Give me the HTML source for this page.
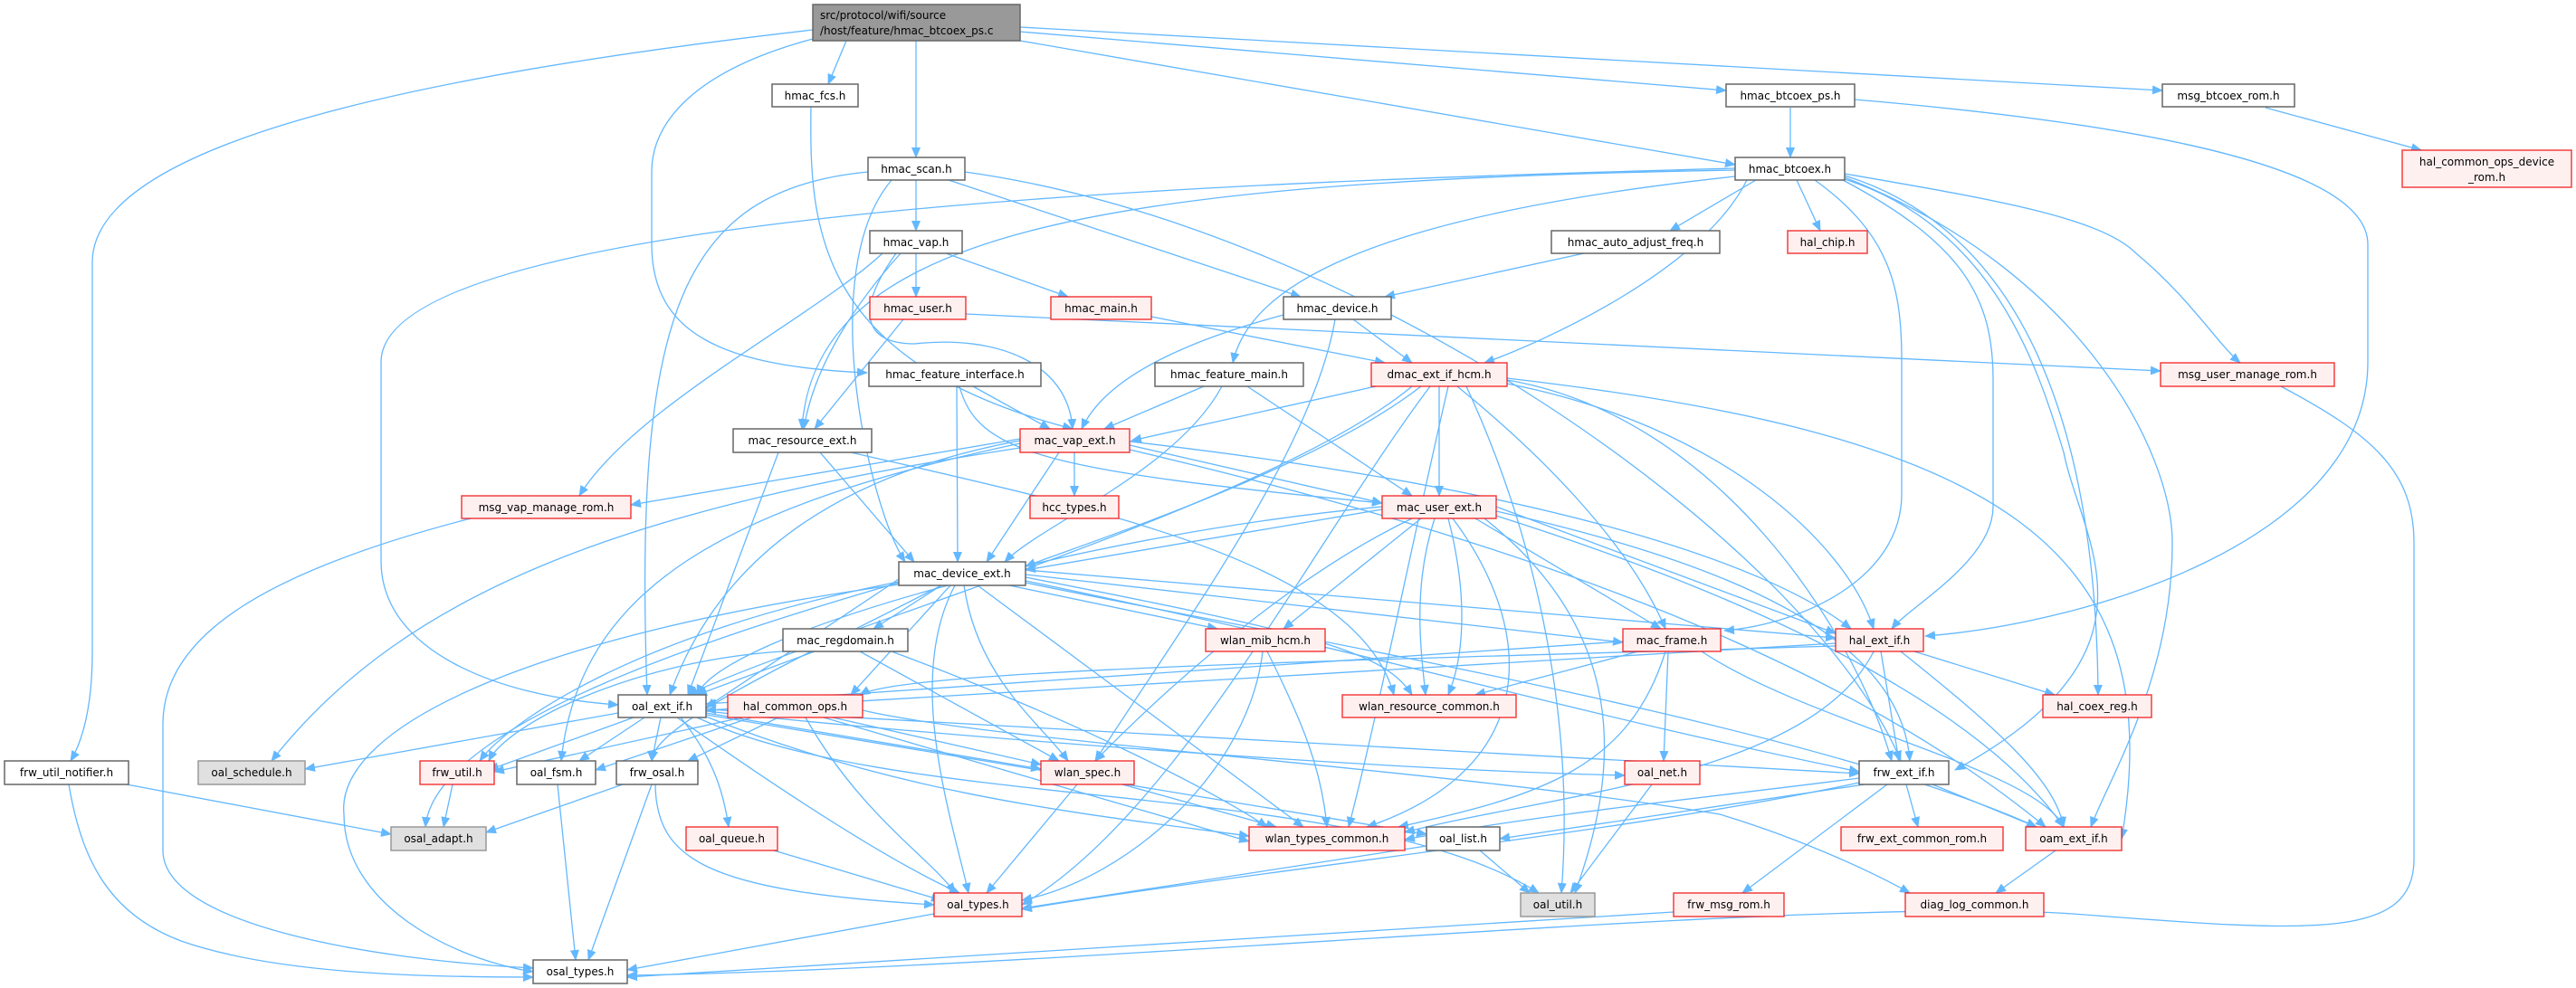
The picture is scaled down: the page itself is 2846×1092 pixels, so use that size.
<!DOCTYPE html>
<html><head><meta charset="utf-8"><style>
html,body{margin:0;padding:0;background:#fff;}
svg{display:block;}
text{font-family:"DejaVu Sans","Liberation Sans",sans-serif;font-size:12px;fill:#000;}
.e{fill:none;stroke:#63b8ff;stroke-width:1.3;marker-end:url(#a);}
.n{fill:#fff;stroke:#666;stroke-width:1.5;}
.r{fill:#fff0f0;stroke:#f00000;stroke-opacity:.75;stroke-width:1.5;}
.g{fill:#e0e0e0;stroke:#999;stroke-width:1.5;}
.root{fill:#999;stroke:#666;stroke-width:1.5;}
</style></head><body>
<svg width="2846" height="1092" viewBox="0 0 2846 1092" xmlns="http://www.w3.org/2000/svg">
<defs><marker id="a" markerUnits="userSpaceOnUse" markerWidth="12" markerHeight="10" refX="11" refY="5" orient="auto"><path d="M0,0 L12,5 L0,10 z" fill="#63b8ff"/></marker></defs>
<g>
<path class="e" d="M898,33 C400,90 102,170 102,290 L102,720 Q102,800 78,841"/>
<path class="e" d="M898,43 C760,80 720,140 720,190 L720,270 C720,370 800,405 958,412"/>
<path class="e" d="M935,45 L915,93"/>
<path class="e" d="M1012,45 L1012,174"/>
<path class="e" d="M1127,45 L1917,182"/>
<path class="e" d="M1127,35 L1907,100"/>
<path class="e" d="M1127,30 L2389,100"/>
<path class="e" d="M896,118 C894,250 900,400 1185,474"/>
<path class="e" d="M1978,119 L1978,174"/>
<path class="e" d="M2049,110 C2400,140 2616,190 2616,270 L2616,400 C2616,600 2300,690 2127,703"/>
<path class="e" d="M2503,119 L2675,166"/>
<path class="e" d="M1012,199 L1012,255"/>
<path class="e" d="M1048,199 L1437,328"/>
<path class="e" d="M985,199 C900,300 960,560 1000,621"/>
<path class="e" d="M959,190 C750,210 700,350 715,768"/>
<path class="e" d="M1066,190 C1500,250 2000,600 2100,841"/>
<path class="e" d="M1917,186 C1400,200 421,230 421,400 L421,620 C421,720 550,770 683,779"/>
<path class="e" d="M1917,188 C1200,200 900,260 886,474"/>
<path class="e" d="M1940,199 L1845,255"/>
<path class="e" d="M1917,195 C1500,240 1380,320 1362,401"/>
<path class="e" d="M1930,199 C1880,300 1700,380 1640,401"/>
<path class="e" d="M1985,199 L2011,255"/>
<path class="e" d="M2005,199 C2090,260 2101,320 2101,400 L2101,546 C2101,640 1990,690 1905,697"/>
<path class="e" d="M2036,199 C2170,270 2202,330 2202,420 L2202,560 C2202,620 2110,670 2090,695"/>
<path class="e" d="M2038,194 C2250,260 2316,500 2318,768"/>
<path class="e" d="M2038,192 C2200,220 2320,240 2360,280 C2420,330 2450,380 2475,401"/>
<path class="e" d="M2038,198 C2200,250 2250,400 2280,500 C2300,600 2400,720 2160,851"/>
<path class="e" d="M2038,196 C2300,300 2400,500 2400,600 C2400,750 2330,860 2310,914"/>
<path class="e" d="M1012,280 L1012,328"/>
<path class="e" d="M1045,280 L1180,328"/>
<path class="e" d="M995,280 C950,330 900,400 888,474"/>
<path class="e" d="M975,280 C900,350 700,450 640,548"/>
<path class="e" d="M990,280 C940,350 960,380 1010,380 C1100,370 1180,400 1185,474"/>
<path class="e" d="M998,353 L900,474"/>
<path class="e" d="M1067,347 L2387,410"/>
<path class="e" d="M1272,350 L1530,401"/>
<path class="e" d="M1418,348 C1300,380 1220,420 1195,474"/>
<path class="e" d="M1495,353 L1560,401"/>
<path class="e" d="M1475,353 C1450,500 1300,700 1210,841"/>
<path class="e" d="M1750,280 L1530,328"/>
<path class="e" d="M1075,427 L1160,474"/>
<path class="e" d="M1060,427 C1080,500 1150,520 1527,556"/>
<path class="e" d="M1057,427 L1058,621"/>
<path class="e" d="M1330,427 L1220,474"/>
<path class="e" d="M1378,427 L1560,548"/>
<path class="e" d="M1350,427 C1300,520 1150,580 1110,621"/>
<path class="e" d="M1520,427 L1250,487"/>
<path class="e" d="M1590,427 L1590,548"/>
<path class="e" d="M1570,427 C1450,520 1200,600 1133,626"/>
<path class="e" d="M1560,427 C1400,560 900,700 760,768"/>
<path class="e" d="M1610,427 C1700,500 1800,600 1840,695"/>
<path class="e" d="M1665,424 C1900,470 2040,600 2070,695"/>
<path class="e" d="M1665,420 C1900,460 2050,700 2090,841"/>
<path class="e" d="M1665,418 C2200,480 2400,600 2344,927"/>
<path class="e" d="M1580,427 C1450,600 1300,900 1129,1000"/>
<path class="e" d="M1600,427 C1560,600 1520,800 1490,914"/>
<path class="e" d="M1620,427 C1700,600 1740,800 1725,987"/>
<path class="e" d="M860,500 L760,768"/>
<path class="e" d="M906,500 L1010,621"/>
<path class="e" d="M940,500 C1200,560 1500,620 1540,768"/>
<path class="e" d="M1127,485 L697,558"/>
<path class="e" d="M1187,500 L1187,548"/>
<path class="e" d="M1248,492 L1527,556"/>
<path class="e" d="M1170,500 L1090,621"/>
<path class="e" d="M1127,495 C700,560 450,650 300,841"/>
<path class="e" d="M1127,490 C800,560 640,650 620,841"/>
<path class="e" d="M1248,488 C1700,540 1950,620 2045,695"/>
<path class="e" d="M1248,497 C1600,580 2000,700 2260,914"/>
<path class="e" d="M1127,487 C950,520 800,600 740,768"/>
<path class="e" d="M520,573 C300,630 180,700 180,800 L180,940 C180,1020 400,1060 589,1070"/>
<path class="e" d="M2520,427 C2620,480 2667,520 2667,600 L2667,950 C2667,1040 2550,1030 2290,1010 C2000,990 1200,1070 693,1078"/>
<path class="e" d="M1527,563 L1133,630"/>
<path class="e" d="M1527,560 C1200,590 800,700 770,768"/>
<path class="e" d="M1570,573 L1418,695"/>
<path class="e" d="M1630,573 L1835,695"/>
<path class="e" d="M1600,573 C1620,650 1620,720 1600,768"/>
<path class="e" d="M1585,573 C1560,650 1570,720 1575,768"/>
<path class="e" d="M1560,573 C1400,650 1250,800 1210,841"/>
<path class="e" d="M1605,573 C1700,700 1700,850 1510,914"/>
<path class="e" d="M1653,560 L2028,700"/>
<path class="e" d="M1653,565 C1900,620 2100,700 2110,841"/>
<path class="e" d="M1653,570 C2000,680 2200,800 2280,914"/>
<path class="e" d="M1640,573 C1800,700 1790,850 1740,987"/>
<path class="e" d="M1040,647 L965,695"/>
<path class="e" d="M993,640 L780,782"/>
<path class="e" d="M1115,647 L1345,695"/>
<path class="e" d="M1133,635 L1793,710"/>
<path class="e" d="M1133,630 L2028,705"/>
<path class="e" d="M1133,638 C1450,700 1530,720 1560,768"/>
<path class="e" d="M1050,647 L940,768"/>
<path class="e" d="M1065,647 C1080,750 1150,800 1180,841"/>
<path class="e" d="M1080,647 L1440,914"/>
<path class="e" d="M1133,642 C1600,740 1700,780 2054,853"/>
<path class="e" d="M1133,644 C1400,700 2000,800 2250,914"/>
<path class="e" d="M993,644 C800,700 480,800 470,914"/>
<path class="e" d="M993,646 C600,700 370,800 380,900 C380,1000 500,1060 589,1074"/>
<path class="e" d="M1040,647 C900,720 720,800 720,841"/>
<path class="e" d="M993,643 C700,700 560,800 530,841"/>
<path class="e" d="M1055,647 C1000,750 1050,900 1070,987"/>
<path class="e" d="M900,720 L770,768"/>
<path class="e" d="M950,720 L1170,841"/>
<path class="e" d="M985,720 C1200,800 1350,880 1400,914"/>
<path class="e" d="M865,720 C700,730 560,800 540,841"/>
<path class="e" d="M1400,720 C1440,800 1460,850 1466,914"/>
<path class="e" d="M1395,720 C1380,850 1250,970 1129,995"/>
<path class="e" d="M1793,709 L780,778"/>
<path class="e" d="M1810,720 L1630,768"/>
<path class="e" d="M1843,720 L1838,841"/>
<path class="e" d="M1840,720 C1800,850 1700,880 1545,914"/>
<path class="e" d="M1880,720 C2000,800 2250,850 2280,914"/>
<path class="e" d="M2028,711 L780,785"/>
<path class="e" d="M2028,714 C1500,730 1000,740 950,768"/>
<path class="e" d="M2115,720 L2270,768"/>
<path class="e" d="M2078,720 L2098,841"/>
<path class="e" d="M2100,720 C2200,800 2270,860 2280,914"/>
<path class="e" d="M2070,720 C2000,860 1700,880 1552,920"/>
<path class="e" d="M683,788 L337,850"/>
<path class="e" d="M700,793 L540,851"/>
<path class="e" d="M712,793 L640,841"/>
<path class="e" d="M730,793 L720,841"/>
<path class="e" d="M752,793 C790,840 800,880 805,914"/>
<path class="e" d="M748,793 C900,900 1000,960 1060,987"/>
<path class="e" d="M780,788 L1150,850"/>
<path class="e" d="M780,786 C1000,810 1500,850 1795,857"/>
<path class="e" d="M780,790 L1576,922"/>
<path class="e" d="M770,793 C1000,900 1500,860 1700,987"/>
<path class="e" d="M780,784 L2054,855"/>
<path class="e" d="M780,792 C1000,880 1200,900 1380,924"/>
<path class="e" d="M820,793 L546,853"/>
<path class="e" d="M830,793 L658,851"/>
<path class="e" d="M860,793 L760,841"/>
<path class="e" d="M890,793 C950,900 1030,950 1055,987"/>
<path class="e" d="M920,793 L1150,845"/>
<path class="e" d="M910,793 L1380,930"/>
<path class="e" d="M953,785 C1100,820 1600,850 1900,900 C2000,930 2080,970 2110,987"/>
<path class="e" d="M140,867 L432,922"/>
<path class="e" d="M76,867 C90,950 120,1010 200,1040 C300,1075 450,1080 589,1080"/>
<path class="e" d="M500,867 L490,914"/>
<path class="e" d="M616,867 L636,1061"/>
<path class="e" d="M688,867 L537,920"/>
<path class="e" d="M720,867 L650,1061"/>
<path class="e" d="M724,867 C725,950 780,985 1032,1000"/>
<path class="e" d="M855,940 L1040,995"/>
<path class="e" d="M1190,867 L1090,987"/>
<path class="e" d="M1240,867 L1410,914"/>
<path class="e" d="M1576,935 L1129,1004"/>
<path class="e" d="M1635,940 L1690,987"/>
<path class="e" d="M1825,867 L1735,987"/>
<path class="e" d="M2060,867 L1657,927"/>
<path class="e" d="M2054,865 C1800,920 1400,960 1129,1005"/>
<path class="e" d="M2106,867 L2119,914"/>
<path class="e" d="M2135,867 L2250,914"/>
<path class="e" d="M2085,867 L1925,987"/>
<path class="e" d="M2054,860 C1900,880 1700,900 1552,928"/>
<path class="e" d="M2271,940 L2205,987"/>
<path class="e" d="M1032,1010 L693,1072"/>
<path class="e" d="M1849,1008 L693,1080"/>
</g>
<g>
<rect class="root" x="898" y="5" width="229" height="40"/><text x="906" y="21">src/protocol/wifi/source</text><text x="906" y="38">/host/feature/hmac_btcoex_ps.c</text>
<rect class="n" x="853" y="93" width="95" height="25"/><text x="900.5" y="110" text-anchor="middle">hmac_fcs.h</text>
<rect class="n" x="1907" y="93" width="142" height="25"/><text x="1978" y="110" text-anchor="middle">hmac_btcoex_ps.h</text>
<rect class="n" x="2389" y="93" width="146" height="25"/><text x="2462" y="110" text-anchor="middle">msg_btcoex_rom.h</text>
<rect class="n" x="959" y="174" width="107" height="25"/><text x="1012.5" y="191" text-anchor="middle">hmac_scan.h</text>
<rect class="n" x="1917" y="174" width="121" height="25"/><text x="1977.5" y="191" text-anchor="middle">hmac_btcoex.h</text>
<rect class="r" x="2654" y="166" width="187" height="41"/><text x="2747.5" y="183" text-anchor="middle">hal_common_ops_device</text><text x="2747.5" y="200" text-anchor="middle">_rom.h</text>
<rect class="n" x="961" y="255" width="102" height="25"/><text x="1012" y="272" text-anchor="middle">hmac_vap.h</text>
<rect class="n" x="1714" y="255" width="186" height="25"/><text x="1807" y="272" text-anchor="middle">hmac_auto_adjust_freq.h</text>
<rect class="r" x="1975" y="255" width="88" height="25"/><text x="2019" y="272" text-anchor="middle">hal_chip.h</text>
<rect class="r" x="961" y="328" width="106" height="25"/><text x="1014" y="345" text-anchor="middle">hmac_user.h</text>
<rect class="r" x="1161" y="328" width="111" height="25"/><text x="1216.5" y="345" text-anchor="middle">hmac_main.h</text>
<rect class="n" x="1418" y="328" width="119" height="25"/><text x="1477.5" y="345" text-anchor="middle">hmac_device.h</text>
<rect class="n" x="960" y="401" width="190" height="26"/><text x="1055" y="418" text-anchor="middle">hmac_feature_interface.h</text>
<rect class="n" x="1276" y="401" width="164" height="26"/><text x="1358" y="418" text-anchor="middle">hmac_feature_main.h</text>
<rect class="r" x="1515" y="401" width="150" height="26"/><text x="1590" y="418" text-anchor="middle">dmac_ext_if_hcm.h</text>
<rect class="r" x="2387" y="401" width="192" height="26"/><text x="2483" y="418" text-anchor="middle">msg_user_manage_rom.h</text>
<rect class="n" x="810" y="474" width="153" height="26"/><text x="886.5" y="491" text-anchor="middle">mac_resource_ext.h</text>
<rect class="r" x="1127" y="474" width="121" height="26"/><text x="1187.5" y="491" text-anchor="middle">mac_vap_ext.h</text>
<rect class="r" x="510" y="548" width="187" height="25"/><text x="603.5" y="565" text-anchor="middle">msg_vap_manage_rom.h</text>
<rect class="r" x="1138" y="548" width="98" height="25"/><text x="1187" y="565" text-anchor="middle">hcc_types.h</text>
<rect class="r" x="1527" y="548" width="126" height="25"/><text x="1590" y="565" text-anchor="middle">mac_user_ext.h</text>
<rect class="n" x="993" y="621" width="140" height="26"/><text x="1063" y="638" text-anchor="middle">mac_device_ext.h</text>
<rect class="n" x="865" y="695" width="138" height="25"/><text x="934" y="712" text-anchor="middle">mac_regdomain.h</text>
<rect class="r" x="1332" y="695" width="132" height="25"/><text x="1398" y="712" text-anchor="middle">wlan_mib_hcm.h</text>
<rect class="r" x="1793" y="695" width="108" height="25"/><text x="1847" y="712" text-anchor="middle">mac_frame.h</text>
<rect class="r" x="2028" y="695" width="97" height="25"/><text x="2076.5" y="712" text-anchor="middle">hal_ext_if.h</text>
<rect class="n" x="683" y="768" width="97" height="25"/><text x="731.5" y="785" text-anchor="middle">oal_ext_if.h</text>
<rect class="r" x="804" y="768" width="149" height="25"/><text x="878.5" y="785" text-anchor="middle">hal_common_ops.h</text>
<rect class="r" x="1483" y="768" width="192" height="25"/><text x="1579" y="785" text-anchor="middle">wlan_resource_common.h</text>
<rect class="r" x="2257" y="768" width="120" height="25"/><text x="2317" y="785" text-anchor="middle">hal_coex_reg.h</text>
<rect class="n" x="5" y="841" width="137" height="26"/><text x="73.5" y="858" text-anchor="middle">frw_util_notifier.h</text>
<rect class="g" x="219" y="841" width="118" height="26"/><text x="278" y="858" text-anchor="middle">oal_schedule.h</text>
<rect class="r" x="464" y="841" width="82" height="26"/><text x="505" y="858" text-anchor="middle">frw_util.h</text>
<rect class="n" x="571" y="841" width="87" height="26"/><text x="614.5" y="858" text-anchor="middle">oal_fsm.h</text>
<rect class="n" x="681" y="841" width="90" height="26"/><text x="726" y="858" text-anchor="middle">frw_osal.h</text>
<rect class="r" x="1150" y="841" width="103" height="26"/><text x="1201.5" y="858" text-anchor="middle">wlan_spec.h</text>
<rect class="r" x="1795" y="841" width="83" height="26"/><text x="1836.5" y="858" text-anchor="middle">oal_net.h</text>
<rect class="n" x="2054" y="841" width="99" height="26"/><text x="2103.5" y="858" text-anchor="middle">frw_ext_if.h</text>
<rect class="g" x="432" y="914" width="105" height="26"/><text x="484.5" y="931" text-anchor="middle">osal_adapt.h</text>
<rect class="r" x="758" y="914" width="101" height="26"/><text x="808.5" y="931" text-anchor="middle">oal_queue.h</text>
<rect class="r" x="1380" y="914" width="172" height="26"/><text x="1466" y="931" text-anchor="middle">wlan_types_common.h</text>
<rect class="n" x="1576" y="914" width="81" height="26"/><text x="1616.5" y="931" text-anchor="middle">oal_list.h</text>
<rect class="r" x="2034" y="914" width="179" height="26"/><text x="2123.5" y="931" text-anchor="middle">frw_ext_common_rom.h</text>
<rect class="r" x="2238" y="914" width="106" height="26"/><text x="2291" y="931" text-anchor="middle">oam_ext_if.h</text>
<rect class="r" x="1032" y="987" width="97" height="26"/><text x="1080.5" y="1004" text-anchor="middle">oal_types.h</text>
<rect class="g" x="1680" y="987" width="82" height="26"/><text x="1721" y="1004" text-anchor="middle">oal_util.h</text>
<rect class="r" x="1849" y="987" width="122" height="26"/><text x="1910" y="1004" text-anchor="middle">frw_msg_rom.h</text>
<rect class="r" x="2105" y="987" width="153" height="26"/><text x="2181.5" y="1004" text-anchor="middle">diag_log_common.h</text>
<rect class="n" x="589" y="1061" width="104" height="26"/><text x="641" y="1078" text-anchor="middle">osal_types.h</text>
</g>
</svg>
</body></html>
